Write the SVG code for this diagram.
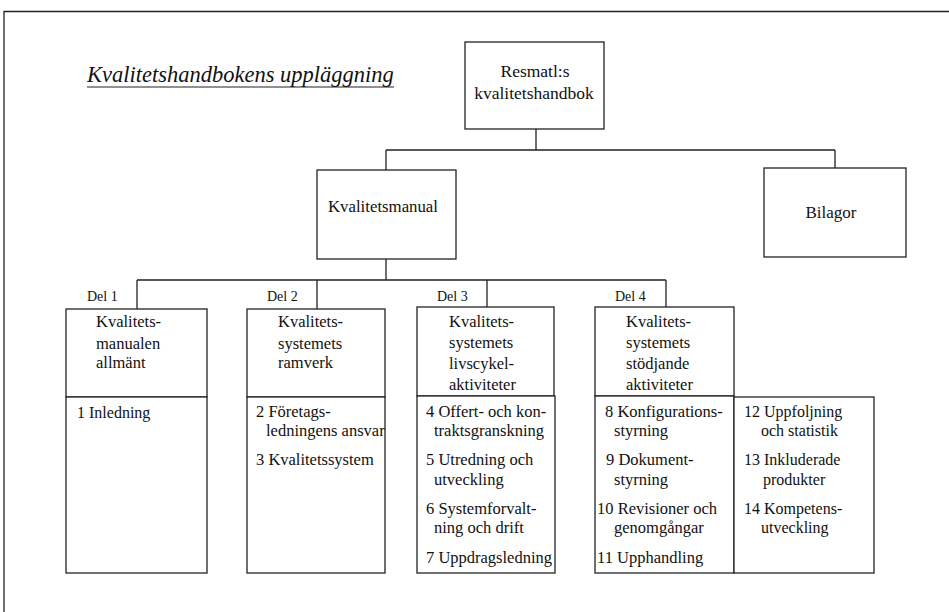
<svg xmlns="http://www.w3.org/2000/svg" width="949" height="612" viewBox="0 0 949 612">
<style>
.b{fill:#fff;stroke:#222;stroke-width:1.3}
.c{fill:none;stroke:#222;stroke-width:1.3}
.t{font-family:"Liberation Serif","Times New Roman",serif;font-size:16.5px;fill:#111}
.d{font-family:"Liberation Serif","Times New Roman",serif;font-size:14px;fill:#111}
.m{text-anchor:middle}
.h{font-family:"Liberation Serif","Times New Roman",serif;font-size:22.5px;font-style:italic;fill:#111}
</style>
<rect width="949" height="612" fill="#fff"/>
<path class="c" d="M4,612 V11.5 H949"/>
<g id="title">
<text class="h" x="87" y="82">Kvalitetshandbokens uppläggning</text>
<line x1="87" y1="87" x2="394" y2="87" stroke="#222" stroke-width="1.2"/>
</g>
<g id="connectors">
<path class="c" d="M536,129 V150 M386,150 H835 M386,150 V170 M835,150 V168"/>
<path class="c" d="M386,259 V280 M137,280 H666 M137,280 V309 M317,280 V309 M487,280 V307 M666,280 V307"/>
</g>
<g id="root">
<rect class="b" x="465" y="42" width="139" height="87"/>
<text class="t m" x="535" y="77" style="font-size:17.5px">Resmatl:s</text>
<text class="t m" x="534" y="99" style="font-size:17.5px">kvalitetshandbok</text>
</g>
<g id="kvalitetsmanual">
<rect class="b" x="317" y="170" width="139" height="89"/>
<text class="t m" x="383" y="212" style="font-size:16.8px">Kvalitetsmanual</text>
</g>
<g id="bilagor">
<rect class="b" x="764" y="168" width="142" height="89"/>
<text class="t m" x="831" y="218" style="font-size:17px">Bilagor</text>
</g>
<g id="del1">
<text class="d" x="87" y="300.5">Del 1</text>
<rect class="b" x="66" y="309" width="141" height="88"/>
<text class="t" x="96" y="327">Kvalitets-</text>
<text class="t" x="96" y="349">manualen</text>
<text class="t" x="96" y="368">allmänt</text>
</g>
<g id="del1-innehall">
<rect class="b" x="66" y="397" width="141" height="176"/>
<text class="t" x="77" y="418" style="font-size:16px">1 Inledning</text>
</g>
<g id="del2">
<text class="d" x="267" y="300.5">Del 2</text>
<rect class="b" x="247" y="309" width="138" height="88"/>
<text class="t" x="278" y="327">Kvalitets-</text>
<text class="t" x="278" y="349">systemets</text>
<text class="t" x="278" y="368">ramverk</text>
</g>
<g id="del2-innehall">
<rect class="b" x="247" y="397" width="138" height="176"/>
<text class="t" x="256" y="417">2 Företags-</text>
<text class="t" x="266" y="436">ledningens ansvar</text>
<text class="t" x="256" y="465">3 Kvalitetssystem</text>
</g>
<g id="del3">
<text class="d" x="437" y="300.5">Del 3</text>
<rect class="b" x="417" y="307" width="137" height="89"/>
<text class="t" x="449" y="327">Kvalitets-</text>
<text class="t" x="449" y="348">systemets</text>
<text class="t" x="449" y="369">livscykel-</text>
<text class="t" x="449" y="390">aktiviteter</text>
</g>
<g id="del3-innehall">
<rect class="b" x="417" y="396" width="138" height="177"/>
<text class="t" x="426" y="417">4 Offert- och kon-</text>
<text class="t" x="434" y="436">traktsgranskning</text>
<text class="t" x="426" y="465">5 Utredning och</text>
<text class="t" x="434" y="485">utveckling</text>
<text class="t" x="426" y="514">6 Systemforvalt-</text>
<text class="t" x="434" y="533">ning och drift</text>
<text class="t" x="426" y="563">7 Uppdragsledning</text>
</g>
<g id="del4">
<text class="d" x="615" y="300.5">Del 4</text>
<rect class="b" x="595" y="307" width="139" height="89"/>
<text class="t" x="626" y="327">Kvalitets-</text>
<text class="t" x="626" y="348">systemets</text>
<text class="t" x="626" y="369">stödjande</text>
<text class="t" x="626" y="390">aktiviteter</text>
</g>
<g id="del4-innehall-a">
<rect class="b" x="595" y="396" width="139" height="177"/>
<text class="t" x="605" y="417">8 Konfigurations-</text>
<text class="t" x="614" y="436">styrning</text>
<text class="t" x="606" y="465">9 Dokument-</text>
<text class="t" x="614" y="485">styrning</text>
<text class="t" x="597" y="514">10 Revisioner och</text>
<text class="t" x="614" y="533">genomgångar</text>
<text class="t" x="597" y="563">11 Upphandling</text>
</g>
<g id="del4-innehall-b">
<rect class="b" x="734" y="397" width="140" height="176"/>
<text class="t" x="744" y="417" style="font-size:16px">12 Uppfoljning</text>
<text class="t" x="761" y="436" style="font-size:16px">och statistik</text>
<text class="t" x="744" y="465" style="font-size:16px">13 Inkluderade</text>
<text class="t" x="763" y="485" style="font-size:16px">produkter</text>
<text class="t" x="744" y="514" style="font-size:16px">14 Kompetens-</text>
<text class="t" x="761" y="533" style="font-size:16px">utveckling</text>
</g>
</svg>
